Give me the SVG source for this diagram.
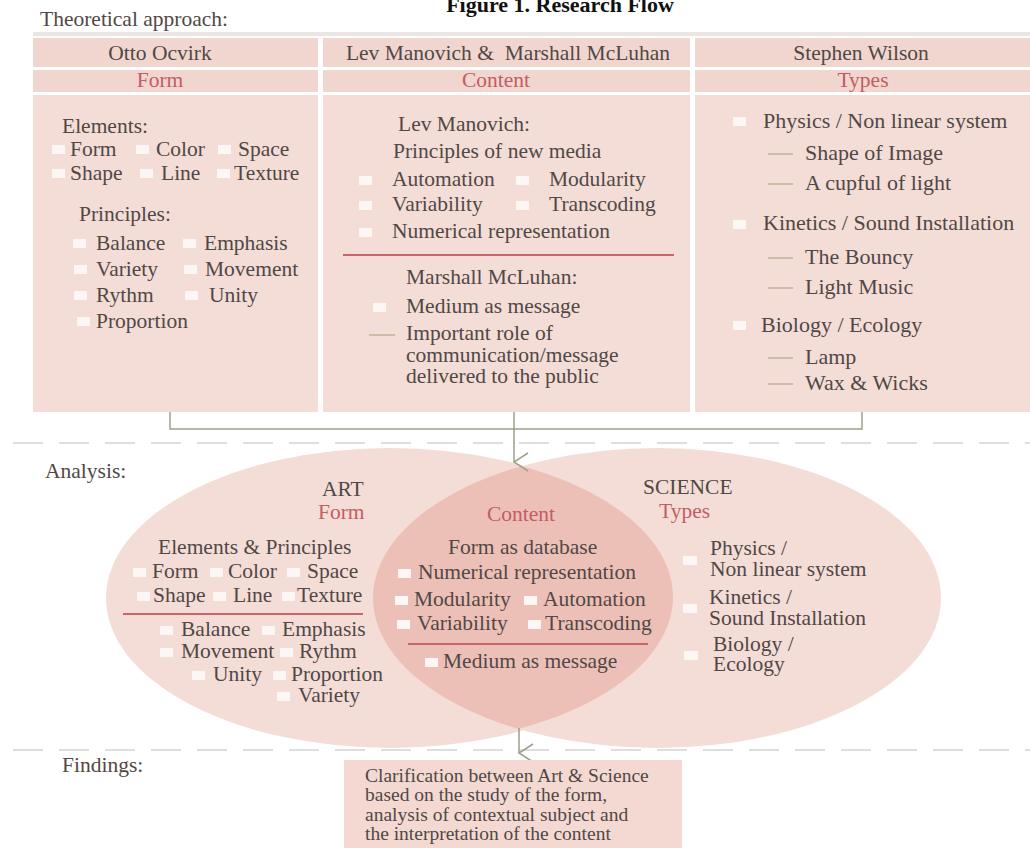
<svg xmlns="http://www.w3.org/2000/svg" width="1030" height="848" viewBox="0 0 1030 848">
<defs>
<style>
.t{font-family:"Liberation Serif","Times New Roman",serif;font-size:21.5px;fill:#514846}
.w{font-size:22px}
.c{text-anchor:middle}
.r{fill:#c45c63}
.cell{fill:#f3ddd6}
.head{fill:#f0d6cf}
.b{fill:#fcf6f4}
.dash{stroke:#b3a78d;stroke-width:1.2}
.red{stroke:#c8656a;stroke-width:2}
.sep{stroke:#dedede;stroke-width:2;stroke-dasharray:30 16;fill:none}
.con{stroke:#9da18a;stroke-width:1.5;fill:none}
.f{font-size:19.5px}
</style>
<marker id="v" viewBox="0 0 20 16" refX="10" refY="15" markerWidth="20" markerHeight="16" markerUnits="userSpaceOnUse" orient="auto-start-reverse">
<path d="M1,1 L10,15 L19,1" fill="none" stroke="#9da18a" stroke-width="1.5"/>
</marker>
<clipPath id="leftclip"><ellipse cx="390" cy="597" rx="283" ry="148"/></clipPath>
</defs>
<rect width="1030" height="848" fill="#ffffff"/>

<text x="560" y="12" text-anchor="middle" font-family="Liberation Serif, serif" font-size="22" font-weight="bold" fill="#111">Figure 1. Research Flow</text>
<text class="t" x="40" y="26">Theoretical approach:</text>
<rect x="33" y="32" width="997" height="4" fill="#ece5e3"/>

<g id="sep">
<line class="sep" x1="13" y1="443" x2="1030" y2="443"/>
<line class="sep" x1="13" y1="750" x2="1030" y2="750"/>
</g>

<g id="col-ocvirk">
<rect class="head" x="33" y="38" width="285" height="29"/>
<rect class="head" x="33" y="70" width="285" height="22"/>
<rect class="cell" x="33" y="95" width="285" height="317"/>
<text class="t c" x="160" y="60">Otto Ocvirk</text>
<text class="t c r" x="160" y="87">Form</text>
<text class="t" x="62" y="133">Elements:</text>
<rect class="b" x="52" y="145" width="13" height="9"/><text class="t" x="70" y="156">Form</text>
<rect class="b" x="136" y="145" width="13" height="9"/><text class="t" x="156" y="156">Color</text>
<rect class="b" x="218" y="145" width="13" height="9"/><text class="t" x="238" y="156">Space</text>
<rect class="b" x="52" y="169" width="13" height="9"/><text class="t" x="70" y="180">Shape</text>
<rect class="b" x="140" y="169" width="13" height="9"/><text class="t" x="161" y="180">Line</text>
<rect class="b" x="217" y="169" width="13" height="9"/><text class="t" x="234" y="180">Texture</text>
<text class="t" x="79" y="221">Principles:</text>
<rect class="b" x="73" y="239" width="13" height="9"/><text class="t" x="96" y="250">Balance</text>
<rect class="b" x="183" y="239" width="13" height="9"/><text class="t" x="204" y="250">Emphasis</text>
<rect class="b" x="74" y="265" width="13" height="9"/><text class="t" x="96" y="276">Variety</text>
<rect class="b" x="184" y="265" width="13" height="9"/><text class="t" x="205" y="276">Movement</text>
<rect class="b" x="74" y="291" width="13" height="9"/><text class="t" x="96" y="302">Rythm</text>
<rect class="b" x="185" y="291" width="13" height="9"/><text class="t" x="209" y="302">Unity</text>
<rect class="b" x="77" y="317" width="13" height="9"/><text class="t" x="96" y="328">Proportion</text>
</g>

<g id="col-manovich">
<rect class="head" x="323" y="38" width="367" height="29"/>
<rect class="head" x="323" y="70" width="367" height="22"/>
<rect class="cell" x="323" y="95" width="367" height="317"/>
<text class="t c" x="508" y="60" xml:space="preserve">Lev Manovich &amp;  Marshall McLuhan</text>
<text class="t c r" x="496" y="87">Content</text>
<text class="t" x="398" y="131">Lev Manovich:</text>
<text class="t" x="393" y="158">Principles of new media</text>
<rect class="b" x="359" y="176" width="13" height="9"/><text class="t" x="392" y="186">Automation</text>
<rect class="b" x="516" y="176" width="13" height="9"/><text class="t" x="549" y="186">Modularity</text>
<rect class="b" x="359" y="201" width="13" height="9"/><text class="t" x="392" y="211">Variability</text>
<rect class="b" x="516" y="201" width="13" height="9"/><text class="t" x="549" y="211">Transcoding</text>
<rect class="b" x="359" y="228" width="13" height="9"/><text class="t" x="392" y="238">Numerical representation</text>
<line class="red" x1="343" y1="255" x2="674" y2="255"/>
<text class="t" x="406" y="284">Marshall McLuhan:</text>
<rect class="b" x="373" y="303" width="13" height="9"/><text class="t" x="406" y="313">Medium as message</text>
<line class="dash" x1="369" y1="335" x2="395" y2="335"/><text class="t" x="406" y="340">Important role of</text>
<text class="t" x="406" y="362">communication/message</text>
<text class="t" x="406" y="383">delivered to the public</text>
</g>

<g id="col-wilson">
<rect class="head" x="695" y="38" width="335" height="29"/>
<rect class="head" x="695" y="70" width="335" height="22"/>
<rect class="cell" x="695" y="95" width="335" height="317"/>
<text class="t c" x="861" y="60">Stephen Wilson</text>
<text class="t c r" x="863" y="87">Types</text>
<rect class="b" x="733" y="117" width="13" height="9"/><text class="t w" x="763" y="128">Physics / Non linear system</text>
<line class="dash" x1="768" y1="154" x2="793" y2="154"/><text class="t w" x="805" y="160">Shape of Image</text>
<line class="dash" x1="768" y1="184" x2="793" y2="184"/><text class="t w" x="805" y="190">A cupful of light</text>
<rect class="b" x="733" y="220" width="13" height="9"/><text class="t w" x="763" y="230">Kinetics / Sound Installation</text>
<line class="dash" x1="768" y1="258" x2="793" y2="258"/><text class="t w" x="805" y="264">The Bouncy</text>
<line class="dash" x1="768" y1="288" x2="793" y2="288"/><text class="t w" x="805" y="294">Light Music</text>
<rect class="b" x="733" y="321" width="13" height="9"/><text class="t w" x="761" y="332">Biology / Ecology</text>
<line class="dash" x1="768" y1="358" x2="793" y2="358"/><text class="t w" x="805" y="364">Lamp</text>
<line class="dash" x1="768" y1="384" x2="793" y2="384"/><text class="t w" x="805" y="390">Wax &amp; Wicks</text>
</g>

<text class="t" x="45" y="478">Analysis:</text>

<g id="venn">
<ellipse cx="390" cy="598" rx="284" ry="150" fill="#f4ddd6"/>
<ellipse cx="657" cy="598" rx="284" ry="150" fill="#f4ddd6"/>
<ellipse cx="657" cy="598" rx="284" ry="150" fill="#ecc0b6" clip-path="url(#leftclip)"/>
</g>

<g id="art">
<text class="t" x="322" y="496">ART</text>
<text class="t r" x="318" y="519">Form</text>
<text class="t" x="158" y="554">Elements &amp; Principles</text>
<rect class="b" x="133" y="568" width="13" height="9"/><text class="t" x="152" y="578">Form</text>
<rect class="b" x="210" y="568" width="13" height="9"/><text class="t" x="228" y="578">Color</text>
<rect class="b" x="287" y="568" width="13" height="9"/><text class="t" x="307" y="578">Space</text>
<rect class="b" x="137" y="592" width="13" height="9"/><text class="t" x="153" y="602">Shape</text>
<rect class="b" x="213" y="592" width="13" height="9"/><text class="t" x="233" y="602">Line</text>
<rect class="b" x="282" y="592" width="13" height="9"/><text class="t" x="297" y="602">Texture</text>
<line class="red" x1="123" y1="614" x2="363" y2="614"/>
<rect class="b" x="160" y="626" width="13" height="9"/><text class="t" x="181" y="636">Balance</text>
<rect class="b" x="262" y="626" width="13" height="9"/><text class="t" x="282" y="636">Emphasis</text>
<rect class="b" x="160" y="648" width="13" height="9"/><text class="t" x="181" y="658">Movement</text>
<rect class="b" x="280" y="648" width="13" height="9"/><text class="t" x="299" y="658">Rythm</text>
<rect class="b" x="192" y="671" width="13" height="9"/><text class="t" x="213" y="681">Unity</text>
<rect class="b" x="273" y="671" width="13" height="9"/><text class="t" x="291" y="681">Proportion</text>
<rect class="b" x="277" y="692" width="13" height="9"/><text class="t" x="298" y="702">Variety</text>
</g>

<g id="content">
<text class="t r" x="487" y="521">Content</text>
<text class="t" x="448" y="554">Form as database</text>
<rect class="b" x="398" y="569" width="13" height="9"/><text class="t" x="418" y="579">Numerical representation</text>
<rect class="b" x="395" y="596" width="13" height="9"/><text class="t" x="414" y="606">Modularity</text>
<rect class="b" x="524" y="596" width="13" height="9"/><text class="t" x="543" y="606">Automation</text>
<rect class="b" x="397" y="620" width="13" height="9"/><text class="t" x="417" y="630">Variability</text>
<rect class="b" x="528" y="620" width="13" height="9"/><text class="t" x="545" y="630">Transcoding</text>
<line class="red" x1="408" y1="644" x2="648" y2="644"/>
<rect class="b" x="425" y="658" width="13" height="9"/><text class="t" x="443" y="668">Medium as message</text>
</g>

<g id="science">
<text class="t" x="643" y="494">SCIENCE</text>
<text class="t r" x="659" y="518">Types</text>
<rect class="b" x="683" y="556" width="14" height="9"/>
<text class="t" x="710" y="555">Physics /</text>
<text class="t" x="710" y="576">Non linear system</text>
<rect class="b" x="683" y="604" width="14" height="9"/>
<text class="t" x="709" y="604">Kinetics /</text>
<text class="t" x="709" y="625">Sound Installation</text>
<rect class="b" x="684" y="651" width="14" height="9"/>
<text class="t" x="713" y="651">Biology /</text>
<text class="t" x="713" y="671">Ecology</text>
</g>

<g id="connectors">
<polyline class="con" points="170,412 170,429 862,429 862,412"/>
<line class="con" x1="514" y1="412" x2="514" y2="462" marker-end="url(#v)"/>
<line class="con" x1="519" y1="728" x2="519" y2="753" marker-end="url(#v)"/>
</g>

<text class="t" x="62" y="772">Findings:</text>
<g id="findings">
<rect x="344" y="760" width="338" height="90" fill="#f3d9d2"/>
<text class="t f" x="365" y="782">Clarification between Art &amp; Science</text>
<text class="t f" x="365" y="801">based on the study of the form,</text>
<text class="t f" x="365" y="821">analysis of contextual subject and</text>
<text class="t f" x="365" y="840">the interpretation of the content</text>
</g>
</svg>
